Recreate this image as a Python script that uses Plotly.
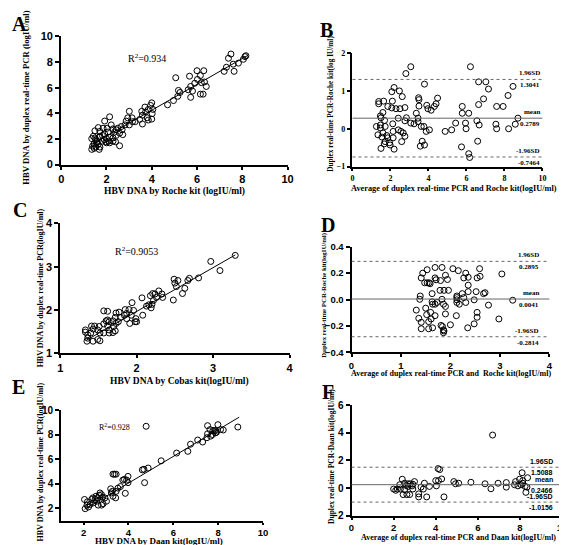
import plotly.graph_objects as go

# ---------------- data ----------------
A_x = [7.5,7.39,8.12,8.16,8.05,7.83,7.6,7.3,7.2,7.64,6.0,6.3,5.67,6.15,5.06,6.02,6.19,6.33,6.41,5.72,
       5.9,5.61,5.8,5.18,5.25,5.15,4.96,4.7,5.72,6.15,6.27,4.0,3.95,4.05,3.7,3.85,3.56,3.73,4.02,3.59,
       3.8,4.0,3.47,3.59,3.85,3.01,2.94,2.87,3.15,3.13,2.82,3.27,3.01,2.65,2.5,2.29,2.43,2.69,2.14,1.92,
       2.21,1.64,1.85,2.03,1.71,1.49,2.07,2.36,2.58,2.72,2.43,1.92,1.82,1.71,1.42,1.35,1.53,1.68,2.14,2.29,
       2.0,1.9,2.1,2.29,2.4,2.0,2.14,1.56,1.45,1.63,1.39,1.53,1.71,1.35,1.68,1.46,2.58,1.59,1.82,1.97,1.49]
A_y = [8.63,8.3,8.43,8.5,8.22,7.92,7.84,7.6,7.28,7.28,7.33,7.33,6.9,6.95,6.78,6.65,6.4,6.45,6.1,6.1,
       6.35,5.84,5.74,5.79,5.63,5.33,5.0,4.67,5.25,5.5,5.5,4.82,4.62,4.31,4.49,4.31,4.16,4.11,3.98,3.86,
       3.65,3.55,3.53,3.17,3.48,4.16,3.65,3.4,3.35,3.65,3.1,3.35,3.1,2.97,2.84,2.79,2.72,2.72,3.73,3.4,
       3.1,2.89,2.84,2.84,2.59,2.64,2.54,2.54,2.46,2.34,2.28,2.39,2.28,2.21,2.21,2.03,1.95,2.13,2.13,2.08,
       2.03,1.95,1.83,1.83,1.78,1.7,1.7,1.7,1.62,1.57,1.45,1.37,1.37,1.19,1.19,1.27,1.47,1.83,1.83,1.78,2.08]
A_fit_x = [1.35, 8.22]
A_fit_y = [1.57, 8.5]

B_x = [3.07,2.81,6.21,3.79,6.64,7.02,7.16,8.45,8.19,2.19,2.47,2.07,2.62,2.10,1.64,1.38,1.38,1.86,2.07,2.29,
       2.5,2.76,3.48,3.5,3.5,3.91,3.97,4.14,4.31,4.48,4.4,5.78,5.78,6.12,6.9,6.64,7.59,7.93,3.36,3.45,
       2.84,2.76,3.07,3.24,3.45,3.62,2.41,2.12,1.5,1.6,1.47,1.69,1.47,1.72,1.26,1.47,1.6,1.81,1.34,1.55,
       1.86,1.95,1.67,1.98,1.5,1.72,2.14,2.14,2.41,2.55,2.67,2.76,2.59,2.19,3.76,3.88,4.05,3.67,3.79,3.57,
       4.88,5.22,5.43,5.95,5.98,5.74,6.12,6.17,6.55,6.67,6.59,7.55,7.59,8.22,8.57,8.71]
B_y = [1.64,1.46,1.64,1.18,1.24,1.24,1.05,1.12,0.88,1.09,1.0,0.98,0.85,0.73,0.73,0.72,0.66,0.59,0.55,0.53,
       0.53,0.56,0.82,0.77,0.6,0.62,0.53,0.49,0.59,0.81,0.66,0.59,0.41,0.41,0.79,0.64,0.59,0.59,0.41,0.28,
       0.29,0.21,0.15,0.13,0.19,0.06,0.28,0.13,0.29,0.43,0.34,0.22,0.1,0.06,0.06,0.02,-0.11,-0.18,-0.16,-0.22,
       -0.24,-0.37,-0.4,-0.43,-0.52,-0.34,-0.24,-0.07,-0.03,-0.07,-0.11,-0.2,-0.34,-0.54,0.06,-0.07,-0.03,-0.33,-0.43,-0.46,
       -0.07,-0.03,0.15,0.15,0.0,-0.48,-0.66,-0.76,0.21,0.1,-0.33,0.12,0.0,0.0,0.12,0.28]
B_limits = [1.3041, 0.2789, -0.7464]
B_limit_text = ["1.96SD", "mean", "-1.96SD"]

C_x = [3.29,2.97,3.09,2.81,2.69,2.67,2.49,2.54,2.5,2.52,2.63,2.6,2.48,2.29,2.33,2.24,2.21,2.26,2.34,2.18,
       2.22,2.2,2.16,2.13,2.19,2.07,2.08,1.94,1.9,1.96,1.85,1.87,1.93,1.77,1.73,1.84,1.87,1.79,1.72,1.99,
       1.98,2.0,1.91,1.76,1.69,1.73,1.7,1.64,1.62,1.57,1.62,1.6,1.57,1.62,1.64,1.64,1.57,1.69,1.72,1.51,
       1.45,1.41,1.49,1.43,1.52,1.33,1.33,1.36,1.36,1.35,1.43,1.49,1.52,1.4]
C_y = [3.26,3.12,2.91,2.74,2.73,2.68,2.71,2.68,2.62,2.54,2.5,2.38,2.23,2.44,2.37,2.37,2.38,2.29,2.29,2.33,
       2.22,2.13,2.12,2.09,2.05,2.28,1.88,2.17,2.01,1.99,2.01,1.92,1.88,1.95,1.93,1.88,1.8,1.83,1.83,1.8,
       1.73,1.73,1.69,1.73,1.75,1.69,1.62,1.73,1.77,1.98,1.97,1.75,1.68,1.63,1.54,1.47,1.47,1.48,1.52,1.62,
       1.63,1.63,1.54,1.56,1.47,1.49,1.54,1.43,1.35,1.28,1.28,1.32,1.29,1.47]
C_fit_x = [1.34, 3.29]
C_fit_y = [1.30, 3.27]

D_x = [1.69,1.83,1.53,1.44,1.41,1.69,1.71,1.8,1.9,1.94,2.05,2.16,2.31,2.27,2.36,2.59,2.6,2.54,3.04,2.36,
       1.48,1.53,1.57,1.59,1.79,1.87,1.96,1.63,2.24,2.36,2.52,2.67,2.7,1.39,1.38,1.83,2.13,2.13,2.13,2.27,
       1.63,1.73,1.69,1.64,1.86,1.9,2.13,2.18,2.31,2.48,2.77,3.26,1.31,1.5,1.6,1.52,1.69,1.9,2.12,2.54,
       2.54,2.98,1.36,1.61,1.41,1.56,2.0,2.48,1.81,1.84,1.41,1.56,1.64,1.86,1.87,1.86,2.35]
D_y = [0.243,0.243,0.226,0.2,0.164,0.164,0.15,0.144,0.184,0.152,0.234,0.219,0.2,0.164,0.169,0.234,0.176,0.164,0.194,0.109,
       0.127,0.127,0.127,0.12,0.07,0.07,0.07,0.045,0.045,0.06,0.06,0.045,0.052,0.027,0.002,0.002,0.027,0.015,-0.002,0.015,
       -0.017,-0.022,-0.035,-0.035,-0.035,-0.052,-0.022,-0.035,-0.022,-0.002,-0.042,-0.005,-0.08,-0.065,-0.097,-0.114,-0.122,-0.109,-0.122,-0.097,
       -0.134,-0.147,-0.142,-0.147,-0.172,-0.167,-0.191,-0.184,-0.196,-0.204,-0.221,-0.221,-0.214,-0.229,-0.238,-0.251,-0.214]
D_limits = [0.2895, 0.0041, -0.2814]
D_limit_text = ["1.96SD", "mean", "-1.96SD"]

E_x = [4.79,8.88,7.99,7.53,7.64,7.77,7.83,7.89,8.11,8.23,7.89,7.53,7.75,7.93,7.67,7.5,7.31,7.09,6.77,6.65,
       6.15,5.46,4.88,4.69,4.62,4.72,3.98,3.82,3.92,3.75,3.98,3.64,3.53,3.31,3.38,3.45,3.21,3.24,3.28,3.45,
       3.31,3.43,3.86,2.73,2.8,2.7,2.84,2.95,3.02,2.87,2.8,2.65,2.41,2.36,2.51,2.58,2.44,2.29,2.15,2.22,
       2.07,2.04,2.17,2.63,2.55]
E_y = [8.68,8.62,8.81,8.73,8.41,8.33,8.33,8.33,8.41,8.38,8.15,8.07,8.01,8.2,7.88,7.75,7.4,7.56,7.22,6.64,
       6.5,5.87,5.28,5.18,5.13,4.09,4.6,4.36,4.3,4.3,4.09,3.77,3.64,4.78,4.78,4.78,3.59,3.25,3.38,3.38,
       2.98,2.85,3.22,3.25,3.11,3.06,2.9,2.85,2.58,2.37,2.26,2.26,2.85,2.72,2.72,2.58,2.45,2.32,2.26,2.11,
       1.97,2.72,2.53,2.85,2.98]
E_fit_x = [2.04, 8.94]
E_fit_y = [1.92, 9.42]

F_x = [6.7,4.11,4.19,4.28,4.0,4.13,4.03,4.39,3.57,3.19,3.19,3.41,3.3,3.46,3.7,2.99,2.91,2.88,2.79,2.68,
       2.52,2.6,2.41,2.29,2.18,2.1,2.0,2.32,2.45,2.63,2.76,2.52,2.91,2.68,4.86,4.94,5.09,5.67,6.34,6.62,
       6.96,7.35,7.35,7.74,7.79,7.98,8.05,8.13,8.1,8.13,8.33,8.24,8.36,8.28,7.9]
F_y = [3.84,1.41,1.34,0.66,0.54,0.54,0.16,-0.64,-0.64,-0.42,-0.64,-0.07,0.07,0.35,0.12,0.47,0.28,0.16,0.31,0.31,
       0.35,0.19,0.64,0.24,-0.07,-0.16,-0.07,-0.07,-0.47,-0.47,-0.47,-0.12,-0.07,0.12,0.47,0.31,0.35,0.42,0.31,-0.05,
       0.35,0.4,0.07,0.24,0.47,0.64,0.24,0.35,1.11,0.54,0.07,0.12,0.75,-0.31,0.16]
F_limits = [1.5088, 0.2466, -1.0156]
F_limit_text = ["1.96SD", "mean", "-1.96SD"]

R2_text = ["R<sup>2</sup>=0.934", "R<sup>2</sup>=0.9053", "R<sup>2</sup>=0.928"]

# ---------------- figure ----------------
W, H = 567, 545
SERIF = "Liberation Serif"
SANS = "Liberation Sans"

def px_x(p):
    return p / W

def px_y(p):
    return 1 - p / H

fig = go.Figure()

marker = dict(symbol="circle-open", size=6, color="black", line=dict(width=1, color="black"))

panels = [
    ("x", "y", A_x, A_y),
    ("x2", "y2", B_x, B_y),
    ("x3", "y3", C_x, C_y),
    ("x4", "y4", D_x, D_y),
    ("x5", "y5", E_x, E_y),
    ("x6", "y6", F_x, F_y),
]
for xa, ya, xs, ys in panels:
    fig.add_trace(go.Scatter(x=xs, y=ys, mode="markers", marker=marker,
                             xaxis=xa, yaxis=ya, hoverinfo="skip"))

# regression lines for the correlation panels
for xa, ya, fx, fy in [("x", "y", A_fit_x, A_fit_y), ("x3", "y3", C_fit_x, C_fit_y),
                       ("x5", "y5", E_fit_x, E_fit_y)]:
    fig.add_trace(go.Scatter(x=fx, y=fy, mode="lines",
                             line=dict(color="black", width=1),
                             xaxis=xa, yaxis=ya, hoverinfo="skip"))

def axis(domain, rng, tick0, dtick, anchor, tfont, fmt=None, lw=2):
    d = dict(domain=domain, range=rng, tick0=tick0, dtick=dtick, anchor=anchor,
             showline=True, linecolor="black", linewidth=lw, ticks="outside",
             ticklen=4, tickwidth=1.5, tickcolor="black", showgrid=False,
             zeroline=False, tickfont=tfont, mirror=False)
    if fmt:
        d["tickformat"] = fmt
    return d

tf_sans = dict(family=SANS, size=11, color="black", weight="bold")
tf_sans_s = dict(family=SANS, size=10, color="black", weight="bold")
tf_sans_d = dict(family=SANS, size=9.5, color="black", weight="bold")
tf_serif = dict(family=SERIF, size=8, color="black", weight="bold")

# pixel boxes in the reference (left, right, top, bottom)
boxA = (51, 281, 23, 154)
boxB = (347, 540, 40, 156)
boxC = (50, 283, 214, 347)
boxD = (346, 547, 238, 346)
boxE = (51, 256, 405, 518)
boxF = (346, 560, 400, 513)

def dom(box):
    l, r, t, b = box
    return [px_x(l), px_x(r)], [px_y(b), px_y(t)]

dA, dB, dC, dD, dE, dF = (dom(b) for b in (boxA, boxB, boxC, boxD, boxE, boxF))

fig.update_layout(
    xaxis=axis(dA[0], [0, 10], 0, 2, "y", tf_sans),
    yaxis=axis(dA[1], [0, 10], 0, 2, "x", tf_sans),
    xaxis2=axis(dB[0], [0, 10], 0, 2, "y2", tf_serif, lw=1.5),
    yaxis2=axis(dB[1], [-1, 2], -1, 1, "x2", tf_serif, lw=1.5),
    xaxis3=axis(dC[0], [1, 4], 1, 1, "y3", tf_sans),
    yaxis3=axis(dC[1], [1, 4], 1, 1, "x3", tf_sans),
    xaxis4=axis(dD[0], [0, 4], 0, 1, "y4", tf_sans_d),
    yaxis4=axis(dD[1], [-0.4, 0.4], -0.4, 0.2, "x4", tf_sans_d, fmt=".1f"),
    xaxis5=axis(dE[0], [1, 10], 0, 2, "y5", tf_sans_d),
    yaxis5=axis(dE[1], [1, 10], 0, 2, "x5", tf_sans_s),
    xaxis6=axis(dF[0], [0, 10], 0, 2, "y6", tf_sans_d),
    yaxis6=axis(dF[1], [-2, 6], -2, 2, "x6", tf_sans_s),
)
fig.update_xaxes(ticklen=3)
fig.update_layout(xaxis5=dict(ticklen=2), xaxis6=dict(ticklen=2))

# Bland-Altman limit lines and labels
shapes = []
annotations = []
ba = [("x2", "y2", B_limits, B_limit_text, 1.0, dict(family=SERIF, size=7, color="black", weight="bold")),
      ("x4", "y4", D_limits, D_limit_text, 0.96, dict(family=SERIF, size=7, color="black", weight="bold")),
      ("x6", "y6", F_limits, F_limit_text, 0.967, dict(family=SANS, size=7, color="black", weight="bold"))]
for xa, ya, lims, texts, xr, fnt in ba:
    for i, (v, t) in enumerate(zip(lims, texts)):
        shapes.append(dict(type="line", xref=xa + " domain", yref=ya, x0=0, x1=1, y0=v, y1=v,
                           line=dict(color="#666666", width=1, dash="solid" if i == 1 else "dot")))
        annotations.append(dict(xref=xa + " domain", yref=ya, x=xr, y=v, text=t, showarrow=False,
                                xanchor="right", yanchor="bottom", yshift=0, font=fnt))
        annotations.append(dict(xref=xa + " domain", yref=ya, x=xr, y=v, text=f"{v:.4f}", showarrow=False,
                                xanchor="right", yanchor="top", yshift=0, font=fnt))

# R^2 labels
annotations.append(dict(xref="x", yref="y", x=3.8, y=8.3, text=R2_text[0], showarrow=False,
                        font=dict(family=SERIF, size=10, color="black")))
annotations.append(dict(xref="x3", yref="y3", x=2.0, y=3.37, text=R2_text[1], showarrow=False,
                        font=dict(family=SERIF, size=10, color="black")))
annotations.append(dict(xref="x5", yref="y5", x=3.4, y=8.64, text=R2_text[2], showarrow=False,
                        font=dict(family=SERIF, size=8, color="black")))

# axis titles (reference pixel positions)
def title(text, xp, yp, size, angle=0, family=SERIF, xanchor="center"):
    annotations.append(dict(xref="paper", yref="paper", x=px_x(xp), y=px_y(yp), text=text,
                            showarrow=False, textangle=angle, xanchor=xanchor, yanchor="middle",
                            font=dict(family=family, size=size, color="black", weight="bold")))

title("HBV DNA by Roche kit (logIU/ml)", 166, 181, 9.5)
title("HBV DNA by duplex real-time PCR (logIU/ml)", 15, 86, 8.7, -90)
title("Average of duplex real-time PCR and Roche kit(logIU/ml)", 450, 178, 8.3)
title("Duplex real-time PCR-Roche kit(log IU/ml)", 325, 92, 7.3, -90)
title("HBV DNA by Cobas kit(logIU/ml)", 171, 376, 9.5)
title("HBV DNA by duplex real-time PCR(logIU/ml)", 30, 280, 8, -90)
title("Average of duplex real-time PCR and  Roche kit(logIU/ml)", 447, 368, 8)
title("Duplex real-time PCR-Roche kit(logIU/ml)", 318, 287, 6.8, -90)
title("HBV DNA by Daan kit(logIU/ml)", 150, 539, 9)
title("HBV DNA by duplex real-time PCR(logIU/ml)", 30, 458, 8, -90)
title("Average of duplex real-time PCR and Daan kit(logIU/ml)", 455, 535, 8)
title("Duplex real-time PCR-Daan kit(logIU/ml)", 325, 452, 7.5, -90)

# panel letters
for letter, xp, yp in [("A", 9, 10), ("B", 321, 16), ("C", 9, 200), ("D", 322, 216), ("E", 8, 381), ("F", 322, 386)]:
    title(letter, xp, yp, 20)

fig.update_layout(
    width=W, height=H, margin=dict(l=0, r=0, t=0, b=0),
    paper_bgcolor="white", plot_bgcolor="white", showlegend=False,
    shapes=shapes, annotations=annotations,
)

fig.write_html("out.html")
